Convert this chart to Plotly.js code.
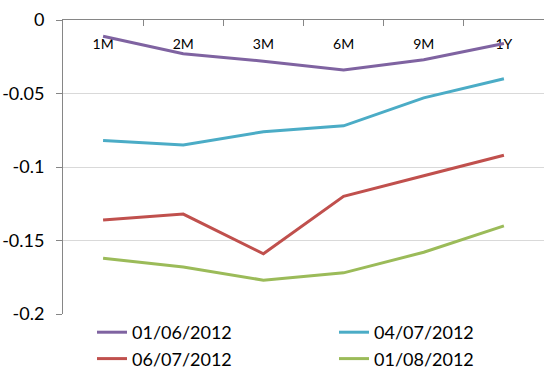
<!DOCTYPE html>
<html>
<head>
<meta charset="utf-8">
<script src="https://cdn.plot.ly/plotly-3.0.1.min.js"></script>
<style>html,body{margin:0;padding:0;background:#fff}#chart{width:550px;height:385px}</style>
</head>
<body>
<div id="chart"></div>
<script>
var categories = ["1M", "2M", "3M", "6M", "9M", "1Y"];
var seriesNames = ["01/06/2012", "04/07/2012", "06/07/2012", "01/08/2012"];
var s20120601 = [-0.011, -0.023, -0.028, -0.034, -0.027, -0.016];
var s20120704 = [-0.082, -0.085, -0.076, -0.072, -0.053, -0.040];
var s20120706 = [-0.136, -0.132, -0.159, -0.120, -0.106, -0.092];
var s20120801 = [-0.162, -0.168, -0.177, -0.172, -0.158, -0.140];
var yTickVals = [0, -0.05, -0.1, -0.15, -0.2];
var yTickText = ["0", "-0.05", "-0.1", "-0.15", "-0.2"];

var colors = ["#7f63a1", "#4bacc6", "#c0504d", "#9bbb59"];
var legendIds = ["legend", "legend2", "legend", "legend2"];
var values = [s20120601, s20120704, s20120706, s20120801];
var traces = values.map(function (v, i) {
  return {
    type: "scatter", mode: "lines", x: categories, y: v, name: seriesNames[i],
    legend: legendIds[i],
    line: {color: colors[i], width: 3}
  };
});

var catIndex = categories.map(function (c, i) { return i; });
// label-only carrier for the category axis drawn inside the plot (no visible marks)
traces.push({
  type: "scatter", mode: "none", xaxis: "x2", yaxis: "y",
  x: catIndex, y: catIndex.map(function () { return null; }),
  showlegend: false, hoverinfo: "skip"
});

function legendAt(px) {
  return {
    orientation: "v", xref: "container", yref: "container",
    x: px / 550, y: 1 - 314 / 385, xanchor: "left", yanchor: "top",
    traceorder: "normal", font: {size: 18}, bgcolor: "rgba(0,0,0,0)",
    tracegroupgap: 0
  };
}

var layout = {
  width: 550, height: 385,
  margin: {l: 63, r: 6, t: 20, b: 71, autoexpand: false},
  paper_bgcolor: "#fff", plot_bgcolor: "#fff",
  font: {family: "Lato, sans-serif", color: "#000", size: 18},
  showlegend: true,
  legend: legendAt(92),
  legend2: legendAt(334),
  xaxis: {
    type: "category", side: "top", range: [-0.5, 5.5],
    showline: true, linecolor: "#868686", linewidth: 1,
    ticks: "inside", ticklen: 6, tickcolor: "#868686", tickson: "boundaries",
    showticklabels: false,
    showgrid: false, zeroline: false
  },
  xaxis2: {
    overlaying: "x", anchor: "free", position: 0.893, side: "top",
    range: [-0.5, 5.5], tickvals: catIndex, ticktext: categories,
    showline: false, ticks: "", showgrid: false, zeroline: false,
    tickfont: {size: 14}, layer: "below traces"
  },
  yaxis: {
    range: [-0.2, 0], tickvals: yTickVals, ticktext: yTickText,
    showline: true, linecolor: "#868686", linewidth: 1,
    ticks: "outside", ticklen: 6, tickcolor: "#868686",
    showgrid: true, gridcolor: "#d9d9d9", gridwidth: 1, zeroline: false,
    tickfont: {size: 18}, ticklabelstandoff: 8
  }
};
Plotly.newPlot("chart", traces, layout, {staticPlot: true, displayModeBar: false});
</script>
</body>
</html>
